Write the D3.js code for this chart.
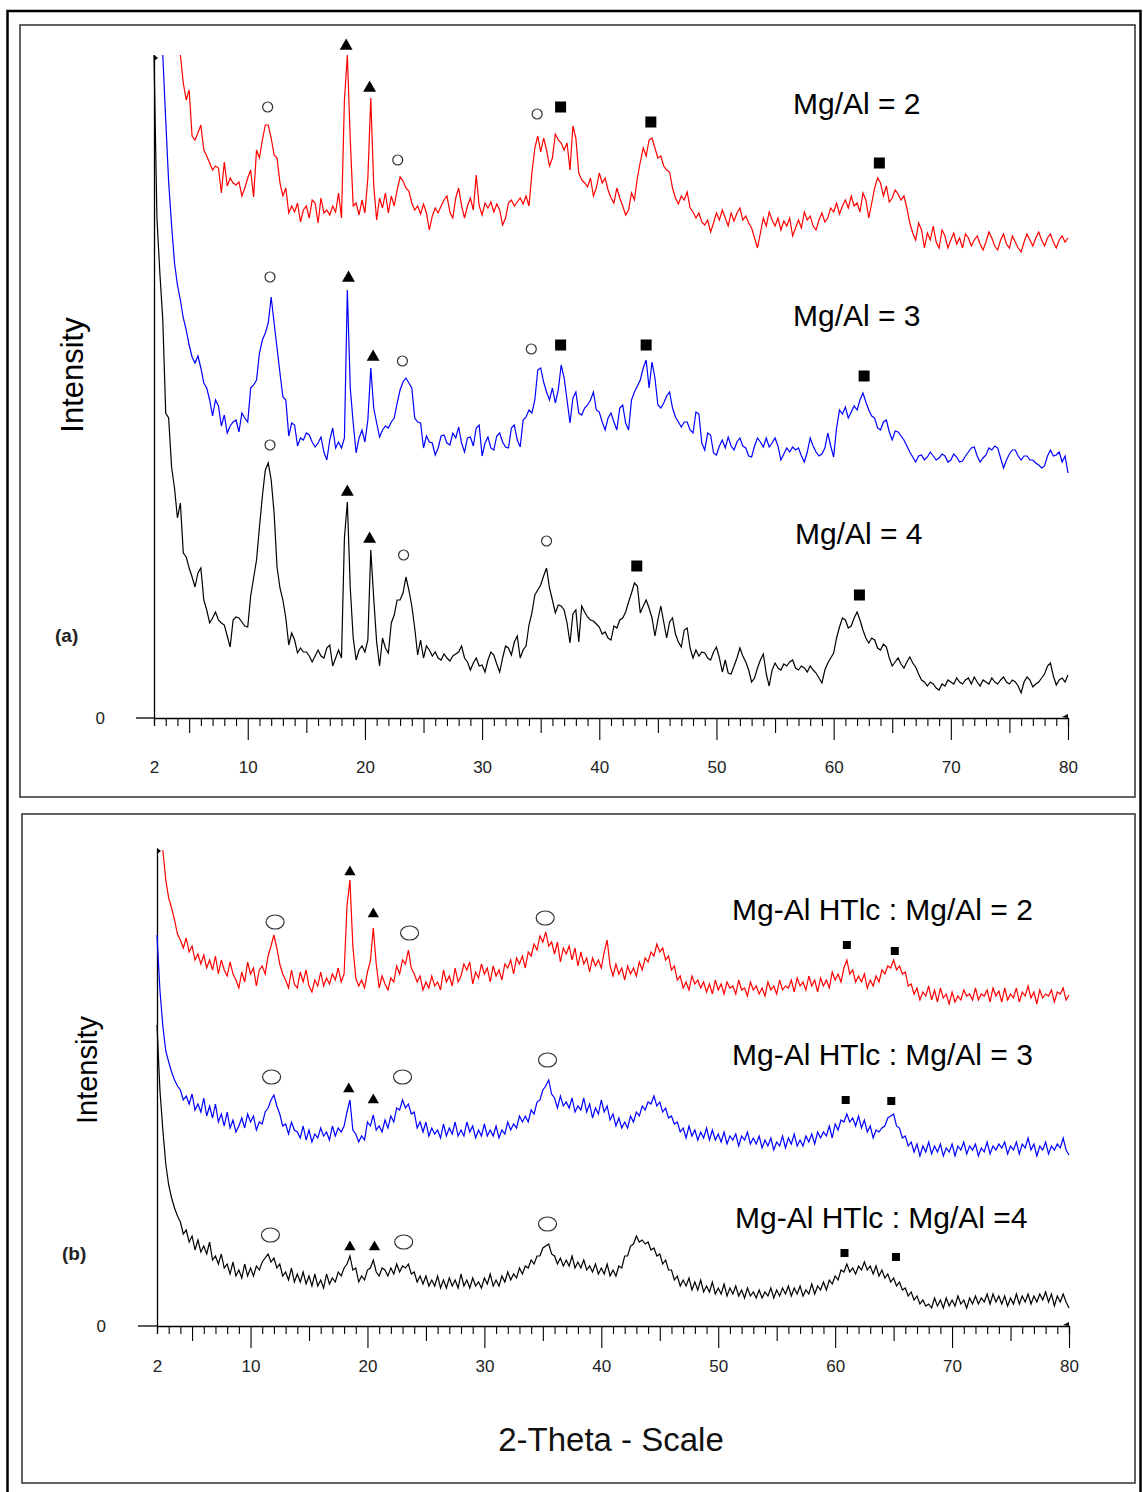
<!DOCTYPE html>
<html>
<head>
<meta charset="utf-8">
<script src="https://d3js.org/d3.v7.min.js"></script>
<style>
  body { margin: 0; background: #fff; }
  svg { display: block; font-family: Arial, "Liberation Sans", sans-serif; }
  .trace { fill: none; stroke-width: 1.2; stroke-linejoin: miter; }
</style>
</head>
<body>
<svg id="chart" width="1143" height="1492"></svg>
<script>
// 2-theta grid, 0.25 degree steps from 2 to 80 (each row below = 2 degrees)
const theta = d3.range(2, 80.1, 0.25);

// panel (a) : calcined samples, stacked intensity (arbitrary units)
const redA = [
  null, null, null, null, null, null, null, null,
  null, 663, 635, 618, 628, 582, 578, 585,
  593, 568, 562, 555, 548, 552, 550, 525,
  556, 532, 540, 535, 533, 536, 522, 530,
  540, 548, 521, 568, 560, 578, 593, 593,
  580, 563, 560, 535, 522, 530, 505, 512,
  506, 515, 496, 508, 512, 500, 518, 515,
  495, 520, 505, 508, 503, 512, 506, 525,
  500, 618, 663, 578, 512, 515, 503, 518,
  505, 540, 620, 533, 498, 520, 510, 525,
  505, 522, 512, 528, 541, 537, 530, 527,
  515, 508, 512, 504, 514, 505, 488, 502,
  510, 505, 512, 518, 522, 506, 500, 520,
  530, 512, 500, 512, 520, 508, 543, 512,
  503, 515, 510, 516, 506, 514, 508, 493,
  500, 515, 518, 512, 516, 520, 514, 522,
  512, 545, 570, 582, 566, 580, 568, 552,
  560, 584, 578, 575, 568, 575, 548, 592,
  580, 545, 538, 535, 531, 540, 522, 530,
  545, 535, 540, 528, 520, 515, 530, 520,
  512, 503, 508, 525, 518, 540, 556, 570,
  562, 578, 580, 570, 560, 562, 552, 548,
  546, 530, 520, 514, 522, 518, 526, 510,
  506, 500, 505, 496, 493, 498, 486, 495,
  505, 498, 508, 500, 492, 505, 497, 505,
  510, 498, 502, 495, 490, 480, 470, 485,
  500, 492, 506, 498, 492, 500, 488, 497,
  492, 500, 482, 490, 498, 490, 506, 498,
  502, 492, 488, 498, 505, 496, 500, 510,
  506, 515, 504, 512, 518, 510, 522, 512,
  515, 506, 525, 518, 500, 515, 530, 540,
  535, 522, 532, 516, 520, 528, 524, 518,
  522, 510, 495, 485, 478, 495, 488, 470,
  485, 478, 492, 476, 470, 488, 482, 470,
  478, 485, 474, 480, 470, 484, 480, 472,
  478, 482, 474, 468, 476, 486, 480, 472,
  468, 478, 484, 474, 470, 482, 476, 470,
  466, 476, 484, 478, 472, 480, 486, 478,
  472, 480, 484, 476, 470, 478, 482, 476,
  480];
const blueA = [
  null, null, null, 663, 598, 536, 493, 455,
  433, 418, 400, 388, 373, 361, 355, 362,
  350, 335, 330, 318, 302, 318, 312, 292,
  303, 285, 292, 296, 298, 286, 305, 300,
  296, 330, 333, 338, 365, 378, 385, 395,
  421, 395, 370, 345, 321, 318, 282, 295,
  293, 272, 280, 278, 285, 283, 276, 271,
  275, 281, 266, 258, 278, 290, 270, 276,
  270, 280, 428, 330, 295, 265, 280, 288,
  276, 298, 350, 310, 295, 281, 288, 292,
  290, 296, 300, 315, 328, 336, 340, 335,
  330, 300, 296, 295, 270, 282, 276, 275,
  263, 270, 282, 283, 275, 273, 285, 280,
  291, 275, 266, 280, 281, 272, 290, 293,
  262, 275, 281, 270, 268, 282, 285, 276,
  271, 270, 290, 293, 278, 271, 298, 301,
  308, 305, 318, 348, 350, 336, 326, 318,
  330, 315, 328, 353, 340, 318, 295, 320,
  326, 305, 303, 310, 313, 318, 326, 308,
  306, 296, 288, 300, 305, 296, 288, 310,
  313, 295, 288, 318, 326, 332, 338, 350,
  358, 330, 356, 340, 313, 310, 315, 322,
  326, 310, 301, 296, 291, 296, 296, 288,
  285, 306, 304, 275, 268, 285, 283, 265,
  263, 272, 278, 270, 281, 272, 268, 276,
  280, 272, 270, 262, 261, 272, 280, 276,
  271, 280, 271, 275, 280, 272, 258, 264,
  270, 266, 271, 268, 270, 262, 256, 266,
  280, 272, 266, 262, 264, 270, 285, 272,
  261, 290, 308, 304, 311, 300, 306, 312,
  308, 318, 325, 316, 308, 302, 300, 290,
  288, 296, 298, 286, 278, 287, 286, 282,
  278, 272, 266, 261, 256, 262, 263, 258,
  261, 266, 262, 258, 260, 264, 262, 256,
  258, 264, 261, 256, 257, 262, 266, 270,
  271, 262, 256, 260, 263, 270, 268, 272,
  270, 260, 250, 258, 264, 268, 268, 262,
  258, 262, 262, 258, 258, 255, 253, 250,
  252, 262, 268, 262, 263, 266, 256, 262,
  245];
const blackA = [
  663, 500, 445, 398, 305, 300, 251, 230,
  200, 215, 165, 161, 150, 141, 131, 145,
  150, 118, 108, 95, 100, 106, 98, 95,
  93, 82, 71, 98, 101, 100, 96, 92,
  91, 122, 140, 158, 191, 222, 248, 255,
  238, 205, 151, 130, 118, 100, 73, 85,
  78, 65, 70, 66, 66, 62, 56, 62,
  68, 62, 60, 70, 73, 52, 60, 68,
  60, 180, 216, 130, 80, 58, 68, 72,
  66, 78, 168, 120, 76, 52, 80, 70,
  65, 95, 103, 118, 118, 125, 141, 128,
  112, 90, 63, 78, 60, 72, 68, 62,
  66, 60, 58, 64, 60, 57, 62, 64,
  66, 72, 60, 56, 48, 55, 60, 52,
  53, 46, 58, 66, 63, 54, 46, 60,
  72, 70, 63, 76, 82, 60, 68, 72,
  93, 105, 123, 128, 133, 142, 150, 130,
  118, 105, 113, 112, 108, 95, 75, 104,
  108, 76, 112, 106, 101, 98, 97, 94,
  91, 84, 86, 80, 78, 92, 90, 98,
  100, 106, 116, 125, 135, 132, 105, 112,
  118, 110, 100, 82, 98, 112, 96, 80,
  96, 100, 84, 76, 71, 88, 90, 70,
  60, 68, 62, 66, 65, 60, 58, 66,
  71, 60, 46, 58, 45, 44, 52, 60,
  70, 62, 56, 48, 36, 40, 50, 58,
  64, 44, 32, 48, 55, 50, 48, 54,
  52, 56, 58, 50, 48, 52, 50, 46,
  52, 48, 45, 40, 35, 48, 55, 60,
  65, 80, 91, 100, 98, 90, 92, 100,
  106, 98, 88, 80, 75, 80, 78, 70,
  68, 74, 71, 60, 52, 56, 60, 54,
  50, 56, 61, 55, 51, 44, 38, 36,
  32, 36, 34, 30, 28, 34, 32, 38,
  36, 34, 40, 36, 34, 38, 40, 34,
  41, 36, 32, 38, 36, 34, 40, 36,
  34, 38, 41, 36, 34, 38, 36, 32,
  25, 36, 41, 38, 31, 34, 36, 40,
  44, 52, 55, 42, 33, 38, 40, 36,
  43];

// panel (b) : Mg-Al HTlc samples
const redB = [
  null, null, 476, 446, 428, 418, 406, 392,
  386, 378, 388, 374, 380, 366, 372, 362,
  371, 358, 366, 356, 370, 352, 366, 356,
  350, 364, 352, 346, 338, 354, 344, 364,
  352, 358, 340, 356, 360, 352, 370, 380,
  391, 378, 362, 352, 346, 338, 356, 342,
  338, 354, 344, 356, 340, 334, 346, 340,
  354, 340, 348, 342, 352, 346, 358, 344,
  352, 420, 446, 380, 348, 340, 346, 338,
  354, 365, 398, 362, 338, 350, 342, 336,
  348, 344, 360, 352, 366, 362, 376, 358,
  352, 344, 350, 336, 344, 338, 350, 340,
  344, 336, 356, 344, 350, 340, 358, 344,
  350, 362, 356, 364, 342, 354, 348, 362,
  352, 358, 344, 360, 350, 356, 346, 362,
  358, 366, 352, 368, 362, 370, 358, 374,
  370, 382, 376, 390, 384, 394, 380, 384,
  372, 384, 364, 378, 372, 380, 366, 378,
  360, 374, 362, 368, 354, 368, 360, 366,
  358, 374, 386, 360, 350, 362, 352, 358,
  346, 360, 352, 358, 350, 364, 356, 368,
  364, 374, 370, 382, 374, 378, 366, 370,
  356, 360, 346, 350, 338, 344, 336, 350,
  342, 346, 338, 344, 334, 342, 332, 346,
  336, 342, 332, 344, 338, 340, 332, 346,
  336, 338, 330, 344, 336, 340, 332, 338,
  330, 344, 336, 340, 332, 346, 336, 340,
  338, 346, 334, 348, 340, 344, 336, 350,
  340, 346, 334, 348, 340, 346, 338, 354,
  346, 352, 344, 358, 366, 352, 356, 344,
  350, 344, 352, 338, 346, 340, 350, 344,
  356, 352, 360, 358, 366, 356, 360, 352,
  354, 340, 342, 332, 338, 326, 334, 330,
  340, 326, 336, 324, 338, 328, 332, 322,
  334, 324, 330, 326, 336, 330, 332, 326,
  338, 326, 332, 330, 336, 324, 338, 330,
  335, 324, 338, 326, 332, 328, 338, 324,
  334, 330, 340, 328, 334, 322, 336, 328,
  332, 330, 336, 324, 334, 332, 338, 326,
  331];
const blueB = [
  391, 336, 300, 275, 264, 254, 246, 240,
  236, 226, 230, 222, 232, 216, 222, 214,
  228, 210, 220, 208, 222, 204, 212, 200,
  214, 198, 206, 194, 200, 208, 198, 212,
  204, 210, 196, 204, 202, 214, 218, 226,
  231, 220, 212, 200, 202, 192, 204, 196,
  194, 188, 200, 186, 196, 184, 192, 188,
  198, 190, 194, 186, 200, 190, 198, 194,
  200, 214, 226, 196, 192, 184, 190, 186,
  204, 200, 211, 196, 200, 194, 206, 198,
  210, 204, 218, 216, 226, 218, 222, 212,
  214, 198, 204, 194, 204, 190, 198, 192,
  196, 188, 202, 190, 198, 192, 204, 190,
  196, 190, 204, 194, 200, 188, 196, 190,
  202, 190, 196, 190, 200, 188, 196, 192,
  204, 196, 202, 198, 210, 204, 210, 204,
  216, 212, 224, 226, 236, 240, 246, 232,
  228, 218, 230, 220, 224, 218, 228, 214,
  220, 216, 228, 214, 222, 208, 218, 212,
  226, 214, 220, 206, 212, 200, 208, 198,
  204, 198, 210, 204, 214, 210, 220, 216,
  224, 222, 230, 220, 224, 214, 218, 208,
  210, 202, 204, 194, 198, 188, 200, 190,
  196, 186, 194, 188, 198, 186, 196, 186,
  192, 184, 194, 182, 190, 186, 192, 180,
  190, 186, 194, 182, 188, 182, 190, 178,
  186, 180, 188, 176, 184, 180, 190, 178,
  188, 182, 192, 180, 186, 180, 190, 184,
  192, 182, 194, 188, 194, 190, 200, 188,
  202, 196, 206, 204, 212, 204, 208, 200,
  210, 198, 206, 194, 200, 188, 196, 194,
  198, 200, 208, 210, 212, 200, 198, 188,
  190, 180, 184, 174, 182, 170, 180, 174,
  184, 172, 180, 174, 182, 170, 178, 174,
  182, 170, 180, 176, 184, 172, 180, 176,
  182, 170, 178, 174, 184, 172, 180, 176,
  182, 178, 184, 172, 180, 176, 184, 172,
  182, 178, 188, 176, 182, 170, 180, 176,
  184, 172, 180, 176, 182, 178, 188, 176,
  171];
const blackB = [
  301, 236, 196, 162, 141, 128, 118, 110,
  104, 92, 96, 84, 90, 76, 86, 74,
  80, 72, 84, 66, 70, 62, 72, 58,
  62, 52, 64, 50, 56, 48, 62, 50,
  58, 50, 60, 56, 64, 68, 72, 64,
  68, 58, 62, 50, 54, 46, 58, 44,
  52, 44, 54, 42, 50, 40, 52, 40,
  46, 38, 52, 42, 48, 44, 54, 50,
  58, 62, 70, 56, 58, 44, 50, 46,
  56, 58, 66, 54, 50, 58, 56, 50,
  58, 52, 62, 54, 60, 58, 62, 52,
  54, 44, 50, 42, 50, 40, 46, 40,
  50, 38, 46, 38, 48, 40, 46, 38,
  52, 40, 46, 38, 48, 40, 44, 38,
  48, 42, 52, 40, 46, 40, 50, 44,
  54, 46, 52, 48, 58, 52, 60, 58,
  66, 62, 70, 70, 78, 80, 82, 72,
  70, 62, 68, 60, 66, 60, 70, 58,
  64, 58, 66, 56, 60, 54, 62, 52,
  58, 52, 62, 50, 56, 50, 60, 58,
  70, 70, 80, 82, 90, 84, 86, 82,
  84, 76, 78, 70, 72, 62, 66, 56,
  56, 46, 50, 40, 46, 40, 48, 36,
  44, 36, 46, 34, 40, 34, 44, 32,
  38, 32, 42, 30, 38, 32, 40, 30,
  36, 28, 38, 30, 34, 28, 36, 28,
  34, 30, 38, 28, 36, 30, 38, 32,
  40, 30, 38, 32, 40, 30, 36, 32,
  42, 32, 40, 36, 44, 36, 46, 42,
  50, 46, 56, 54, 62, 54, 58, 52,
  60, 56, 64, 56, 60, 52, 60, 50,
  56, 48, 52, 44, 48, 40, 44, 36,
  38, 30, 34, 26, 30, 22, 26, 20,
  22, 18, 28, 20, 26, 18, 28, 20,
  26, 20, 30, 22, 26, 18, 28, 22,
  30, 22, 28, 24, 32, 22, 32, 24,
  30, 22, 30, 20, 28, 22, 32, 22,
  30, 24, 32, 22, 30, 24, 32, 26,
  34, 24, 32, 20, 30, 24, 32, 24,
  18];

// phase markers: o = circle, t = triangle, s = square
const markThetaA = [11.7, 18.4, 20.4, 22.8, 34.7, 36.7, 44.4, 63.9,
                    11.9, 18.6, 20.7, 23.2, 34.2, 36.7, 44.0, 62.6,
                    11.9, 18.5, 20.4, 23.3, 35.5, 43.2, 62.2];
const markLevelA = [611, 672, 630, 558, 604, 611, 596, 555,
                    441, 440, 361, 357, 369, 373, 373, 342,
                    273, 226, 179, 163, 177, 152, 123];
const markShapeA = ["o", "t", "t", "o", "o", "s", "s", "s",
                    "o", "t", "t", "o", "o", "s", "s", "s",
                    "o", "t", "t", "o", "o", "s", "s"];
const markThetaB = [12.1, 18.5, 20.5, 23.6, 35.2, 61.0, 65.1,
                    11.8, 18.4, 20.5, 23.0, 35.4, 60.9, 64.8,
                    11.7, 18.5, 20.6, 23.1, 35.4, 60.8, 65.2];
const markLevelB = [404, 454, 412, 393, 408, 381, 375,
                    249, 237, 226, 249, 266, 226, 225,
                    91, 79, 79, 84, 102, 73, 69];
const markShapeB = ["o", "t", "t", "o", "o", "s", "s",
                    "o", "t", "t", "o", "o", "s", "s",
                    "o", "t", "t", "o", "o", "s", "s"];

const seriesColors = ["#ff0000", "#0000ff", "#000000"];
const labelsA = ["Mg/Al = 2", "Mg/Al = 3", "Mg/Al = 4"];
const labelsB = ["Mg-Al HTlc : Mg/Al = 2", "Mg-Al HTlc : Mg/Al = 3", "Mg-Al HTlc : Mg/Al =4"];
const tickLabels = [2, 10, 20, 30, 40, 50, 60, 70, 80];

const svg = d3.select("#chart");

// outer frame
svg.append("rect").attr("x", 7.5).attr("y", 11).attr("width", 1133).attr("height", 1495)
  .attr("fill", "none").attr("stroke", "#000").attr("stroke-width", 2.5);

const panels = [
  { tag: "(a)", box: [20, 25, 1115, 772], xr: [154, 1068], base: 718, top: 55, ymax: 663,
    series: [redA, blueA, blackA], labels: labelsA,
    labelPos: [[793, 114], [793, 326], [795, 544]],
    mTheta: markThetaA, mLevel: markLevelA, mShape: markShapeA, big: false,
    tagPos: [55, 642], zeroPad: 49, axisLeftX: 136, labPad: 35,
    ylab: [72, 375, 31] },
  { tag: "(b)", box: [22, 814, 1113, 669], xr: [157, 1069], base: 1326, top: 848, ymax: 478,
    series: [redB, blueB, blackB], labels: labelsB,
    labelPos: [[732, 920], [732, 1065], [735, 1228]],
    mTheta: markThetaB, mLevel: markLevelB, mShape: markShapeB, big: true,
    tagPos: [62, 1260], zeroPad: 51, axisLeftX: 138, labPad: 26,
    ylab: [87, 1070, 29] }
];

panels.forEach(p => {
  const g = svg.append("g");
  g.append("rect").attr("x", p.box[0]).attr("y", p.box[1]).attr("width", p.box[2]).attr("height", p.box[3])
    .attr("fill", "none").attr("stroke", "#3a3a3a").attr("stroke-width", 1.6);

  const x = d3.scaleLinear().domain([2, 80]).range(p.xr);
  const y = d3.scaleLinear().domain([0, p.ymax]).range([p.base, p.top]);

  // x axis with 1-degree ticks, longer at 5 and 10
  const xa = g.append("g").attr("transform", `translate(0,${p.base})`)
    .call(d3.axisBottom(x).tickValues(d3.range(2, 81)).tickSizeOuter(0).tickSize(8).tickPadding(p.labPad)
      .tickFormat(d => tickLabels.includes(d) ? d : ""));
  xa.select(".domain").attr("stroke", "#000").attr("stroke-width", 1.3);
  xa.selectAll(".tick line").attr("stroke", "#000").attr("stroke-width", 1.1)
    .attr("y2", d => d === 2 ? 0 : d % 10 === 0 ? 22 : d % 5 === 0 ? 15 : 8);
  xa.selectAll(".tick text").attr("font-size", 17).attr("fill", "#222")
    .attr("font-family", "Arial, 'Liberation Sans', sans-serif");
  g.append("line").attr("x1", p.axisLeftX).attr("x2", p.xr[0]).attr("y1", p.base).attr("y2", p.base)
    .attr("stroke", "#000").attr("stroke-width", 1.3);
  g.append("path").attr("d", `M${p.xr[1] - 6},${p.base - 1}L${p.xr[1]},${p.base - 4}L${p.xr[1]},${p.base}Z`)
    .attr("fill", "#000");

  // y axis: just the line and the zero
  const ya = g.append("g").attr("transform", `translate(${p.xr[0]},0)`)
    .call(d3.axisLeft(y).tickValues([0]).tickSize(0).tickPadding(p.zeroPad).tickSizeOuter(0));
  ya.select(".domain").attr("stroke", "#000").attr("stroke-width", 1.3);
  ya.selectAll(".tick text").attr("font-size", 17).attr("fill", "#222")
    .attr("font-family", "Arial, 'Liberation Sans', sans-serif");
  g.append("path").attr("d", `M${p.xr[0]},${p.top}L${p.xr[0] + 4},${p.top + 3}L${p.xr[0]},${p.top + 6}Z`)
    .attr("fill", "#000");

  // traces
  const line = d3.line().defined(d => d != null).x((d, i) => x(theta[i])).y(d => y(d));
  p.series.forEach((s, i) => {
    g.append("path").datum(s).attr("class", "trace").attr("stroke", seriesColors[i]).attr("d", line);
  });

  // phase markers
  const mk = g.append("g");
  p.mTheta.forEach((t, i) => {
    const cx = x(t), cy = y(p.mLevel[i]), sh = p.mShape[i];
    if (sh === "o") {
      mk.append("ellipse").attr("cx", cx).attr("cy", cy)
        .attr("rx", p.big ? 9 : 5).attr("ry", p.big ? 7 : 5)
        .attr("fill", "#fff").attr("stroke", "#333").attr("stroke-width", 1.2);
    } else {
      const sym = sh === "t" ? d3.symbolTriangle : d3.symbolSquare;
      const size = sh === "t" ? (p.big ? 55 : 72) : (p.big ? 64 : 121);
      mk.append("path").attr("transform", `translate(${cx},${cy})`)
        .attr("d", d3.symbol(sym, size)()).attr("fill", "#000");
    }
  });

  // series labels
  p.labels.forEach((l, i) => {
    g.append("text").attr("x", p.labelPos[i][0]).attr("y", p.labelPos[i][1])
      .attr("font-size", 30).attr("fill", "#000").text(l);
  });

  g.append("text").attr("x", p.tagPos[0]).attr("y", p.tagPos[1]).attr("font-size", 19)
    .attr("font-weight", "bold").attr("fill", "#222").text(p.tag);

  g.append("text").attr("transform", `translate(${p.ylab[0]},${p.ylab[1]}) rotate(-90)`)
    .attr("text-anchor", "middle").attr("dy", "0.35em").attr("font-size", p.ylab[2])
    .attr("fill", "#000").text("Intensity");
});

svg.append("text").attr("x", 611).attr("y", 1451).attr("text-anchor", "middle")
  .attr("font-size", 33).attr("fill", "#111").text("2-Theta - Scale");
</script>
</body>
</html>
